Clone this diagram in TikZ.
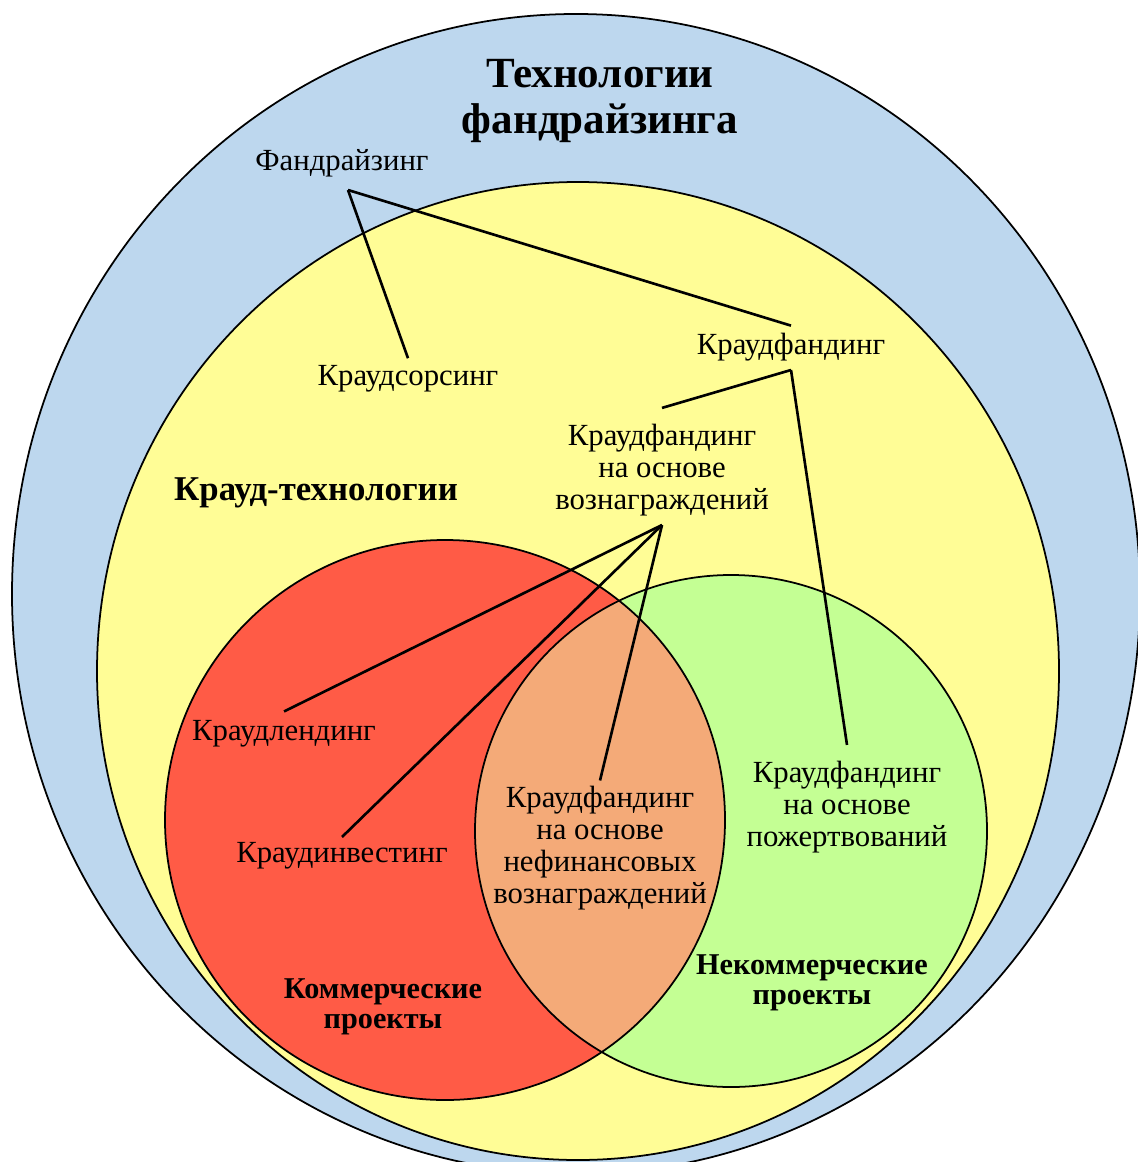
\documentclass[tikz,border=0pt]{standalone}
\usepackage{fontspec}
\setmainfont{Liberation Serif}
\usetikzlibrary{positioning}

\definecolor{techblue}{RGB}{189,215,238}
\definecolor{crowdyellow}{RGB}{255,253,150}
\definecolor{comred}{RGB}{255,91,70}
\definecolor{noncomgreen}{RGB}{196,255,148}
\definecolor{mixorange}{RGB}{244,170,120}

\begin{document}
\begin{tikzpicture}[x=0.02cm,y=-0.02cm,
    txt/.style={align=center,inner sep=2pt,font=\fontsize{17.5}{18.2}\selectfont},
    bold/.style={align=center,inner sep=2pt,font=\fontsize{17.2}{17}\selectfont\bfseries},
    ring/.style={draw,line width=1pt},
    link/.style={line width=1.5pt}]
    \useasboundingbox (0,0) rectangle (1138,1162);

    \draw[ring,fill=techblue]    (576,594) ellipse [x radius=564, y radius=580];
    \draw[ring,fill=crowdyellow] (578,671) ellipse [x radius=481, y radius=489];
    \fill[comred]      (445,820) circle [radius=280];
    \fill[noncomgreen] (731,831) circle [radius=256];
    \begin{scope}
      \clip (445,820) circle [radius=280];
      \fill[mixorange] (731,831) circle [radius=256];
    \end{scope}
    \draw[ring] (445,820) circle [radius=280];
    \draw[ring] (731,831) circle [radius=256];

    \node[bold,font=\fontsize{24.5}{26.6}\selectfont\bfseries] (tech) at (600,101) {Технологии\\фандрайзинга};
    \node[bold,font=\fontsize{19.8}{20}\selectfont\bfseries]   (crowdtech) at (316,493) {Крауд-технологии};
    \node[bold] (comm)    at (383,1007) {Коммерческие\\проекты};
    \node[bold] (noncomm) at (812,983)  {Некоммерческие\\проекты};

    \node[txt] (fund)   at (342,163) {Фандрайзинг};
    \node[txt] (sors)   at (408,379) {Краудсорсинг};
    \node[txt] (cfund)  at (791,347) {Краудфандинг};
    \node[txt] (reward) at (662,470) {Краудфандинг\\на основе\\вознаграждений};
    \node[txt] (lend)   at (284,734) {Краудлендинг};
    \node[txt] (invest) at (342,856) {Краудинвестинг};
    \node[txt] (nonfin) at (600,848) {Краудфандинг\\на основе\\нефинансовых\\вознаграждений};
    \node[txt] (donat)  at (847,807) {Краудфандинг\\на основе\\пожертвований};

    \coordinate (fa) at (348,190);
    \coordinate (ca) at (791,370);
    \coordinate (ra) at (662,525);

    \draw[link] (fa) -- ([yshift=2pt]sors.north);
    \draw[link] (fa) -- ([yshift=2pt]cfund.north);
    \draw[link] (ca) -- ([yshift=7pt]reward.north);
    \draw[link] (ca) -- ([yshift=7pt]donat.north);
    \draw[link] (ra) -- ([yshift=3pt]lend.north);
    \draw[link] (ra) -- ([yshift=1pt]invest.north);
    \draw[link] (ra) -- ([yshift=1pt]nonfin.north);
\end{tikzpicture}
\end{document}
